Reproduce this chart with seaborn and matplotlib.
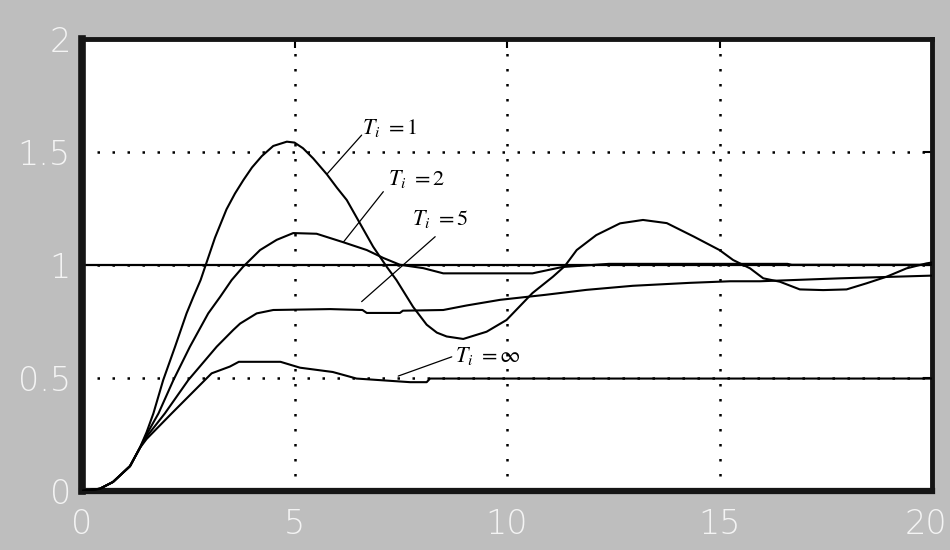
import numpy as np
import pandas as pd
import matplotlib
matplotlib.use("Agg")
import matplotlib.pyplot as plt
import matplotlib.transforms as mtransforms
import seaborn as sns

# Step responses of the PI-controlled loop for several integral times Ti
t_ti1 = [0, 0.42, 0.73, 1.13, 1.36, 1.52, 1.68, 1.91, 2.19, 2.46, 2.62, 2.79,
         3.13, 3.40, 3.60, 3.80, 4.00, 4.23, 4.50, 4.82, 5.00, 5.20, 5.44, 5.76,
         6.00, 6.23, 6.54, 6.85, 7.17, 7.40, 7.79, 8.11, 8.35, 8.58, 8.97, 9.52,
         9.99, 10.60, 11.08, 11.36, 11.64, 12.10, 12.66, 13.20, 13.76, 14.40,
         15.00, 15.32, 15.72, 16.03, 16.42, 16.89, 17.44, 17.99, 18.46, 18.93,
         19.40, 19.87, 20.0]
y_ti1 = [0, 0.01, 0.04, 0.11, 0.19, 0.26, 0.343, 0.49, 0.638, 0.785, 0.858, 0.932,
         1.12, 1.245, 1.315, 1.375, 1.43, 1.48, 1.525, 1.544, 1.54, 1.515, 1.47,
         1.40, 1.34, 1.286, 1.183, 1.08, 0.991, 0.932, 0.814, 0.735, 0.70, 0.683,
         0.672, 0.704, 0.756, 0.875, 0.947, 0.994, 1.065, 1.131, 1.183, 1.198,
         1.184, 1.124, 1.065, 1.021, 0.984, 0.94, 0.925, 0.891, 0.888, 0.891,
         0.918, 0.947, 0.984, 1.006, 1.01]

t_ti2 = [0, 0.42, 0.73, 1.13, 1.36, 1.52, 1.80, 2.15, 2.54, 2.97, 3.25, 3.52, 3.79,
         4.19, 4.58, 4.97, 5.52, 6.14, 6.70, 7.09, 7.48, 8.03, 8.50, 10.60, 11.30,
         12.40, 16.60, 16.70, 20.0]
y_ti2 = [0, 0.01, 0.04, 0.11, 0.19, 0.25, 0.343, 0.49, 0.638, 0.785, 0.858, 0.932,
         0.991, 1.065, 1.11, 1.14, 1.137, 1.10, 1.065, 1.03, 1.0, 0.985, 0.962,
         0.962, 0.99, 1.004, 1.004, 1.0, 1.0]

t_ti5 = [0, 0.42, 0.73, 1.13, 1.36, 1.52, 1.95, 2.50, 3.17, 3.56, 3.72, 4.11, 4.50,
         5.84, 6.60, 6.70, 7.48, 7.55, 8.50, 9.05, 9.84, 10.90, 11.87, 12.96,
         14.30, 15.25, 15.95, 17.84, 20.0]
y_ti5 = [0, 0.01, 0.04, 0.11, 0.19, 0.24, 0.343, 0.49, 0.638, 0.712, 0.74, 0.785,
         0.80, 0.804, 0.80, 0.787, 0.787, 0.797, 0.80, 0.82, 0.845, 0.867, 0.889,
         0.907, 0.92, 0.927, 0.927, 0.94, 0.952]

t_tinf = [0, 0.42, 0.73, 1.13, 1.36, 1.52, 2.11, 2.89, 3.05, 3.48, 3.69, 4.67,
          5.13, 5.90, 6.46, 7.72, 8.11, 8.19, 20.0]
y_tinf = [0, 0.01, 0.04, 0.11, 0.19, 0.23, 0.343, 0.49, 0.52, 0.55, 0.571, 0.571,
          0.545, 0.526, 0.497, 0.481, 0.481, 0.497, 0.497]

setpoint = 1.0

series_names = ["Ti=1", "Ti=2", "Ti=5", "Ti=inf"]
series_t = [t_ti1, t_ti2, t_ti5, t_tinf]
series_y = [y_ti1, y_ti2, y_ti5, y_tinf]

# Curve labels: text, text anchor (t, y), leader start, leader end
label_texts = [r"$T_i\ =1$", r"$T_i\ = 2$", r"$T_i\ = 5$", r"$T_i\ = \infty$"]
label_pos = [(6.58, 1.58), (7.20, 1.352), (7.76, 1.175), (8.78, 0.57)]
leader_from = [(6.58, 1.573), (7.09, 1.323), (8.31, 1.124), (8.70, 0.593)]
leader_to = [(5.76, 1.40), (6.15, 1.10), (6.58, 0.837), (7.44, 0.508)]

x_ticks = [0, 5, 10, 15, 20]
x_ticklabels = ["0", "5", "10", "15", "20"]
y_ticks = [0, 0.5, 1.0, 1.5, 2.0]
y_ticklabels = ["0", "0.5", "1", "1.5", "2"]

frames = []
for name, tt, yy in zip(series_names, series_t, series_y):
    frames.append(pd.DataFrame({"t": tt, "y": yy, "series": name}))
df = pd.concat(frames, ignore_index=True)

sns.set_style("white")
plt.rcParams["font.family"] = ["DejaVu Sans"]
plt.rcParams["mathtext.fontset"] = "stix"

fig = plt.figure(figsize=(9.5, 5.5), dpi=100, facecolor="#bebebe")
ax = fig.add_axes([82 / 950, 59 / 550, 850 / 950, 452.5 / 550])
ax.set_facecolor("white")

ax.axhline(setpoint, color="black", lw=1.6, zorder=2)

sns.lineplot(data=df, x="t", y="y", hue="series", units="series",
             estimator=None, sort=False,
             palette=["black"] * len(series_names), linewidth=1.5,
             legend=False, ax=ax, zorder=3)

for txt, pos, p0, p1 in zip(label_texts, label_pos, leader_from, leader_to):
    ax.annotate("", xy=p1, xytext=p0,
                arrowprops=dict(arrowstyle="-", lw=0.9, color="black",
                                shrinkA=0, shrinkB=0))
    ax.text(pos[0], pos[1], txt, fontsize=16, color="black",
            ha="left", va="baseline", zorder=4)

ax.set_xlim(0, 20)
ax.set_ylim(0, 2)
ax.set_xticks(x_ticks)
ax.set_xticklabels(x_ticklabels)
ax.set_yticks(y_ticks)
ax.set_yticklabels(y_ticklabels)
ax.set_xlabel("")
ax.set_ylabel("")

ax.grid(True, color="black", linestyle=(0, (1, 5)), linewidth=1.8)
ax.set_axisbelow(True)

ax.tick_params(axis="both", which="major", direction="in", length=6.5,
               width=1.5, color="black", top=True, right=True,
               labelsize=24, labelcolor="#f4f4f4")
ax.tick_params(axis="x", pad=12)
ax.tick_params(axis="y", pad=8)
for lab in ax.get_xticklabels() + ax.get_yticklabels():
    lab.set_fontweight(200)

# keep the last x label inside the figure edge
last = ax.get_xticklabels()[-1]
last.set_transform(last.get_transform() +
                   mtransforms.ScaledTranslation(-6 / 100, 0, fig.dpi_scale_trans))

for side, w in [("left", 5.5), ("bottom", 4.5), ("top", 3.5), ("right", 3.5)]:
    ax.spines[side].set_visible(True)
    ax.spines[side].set_linewidth(w)
    ax.spines[side].set_color("#151515")

fig.savefig("out.png", dpi=100, facecolor=fig.get_facecolor())
